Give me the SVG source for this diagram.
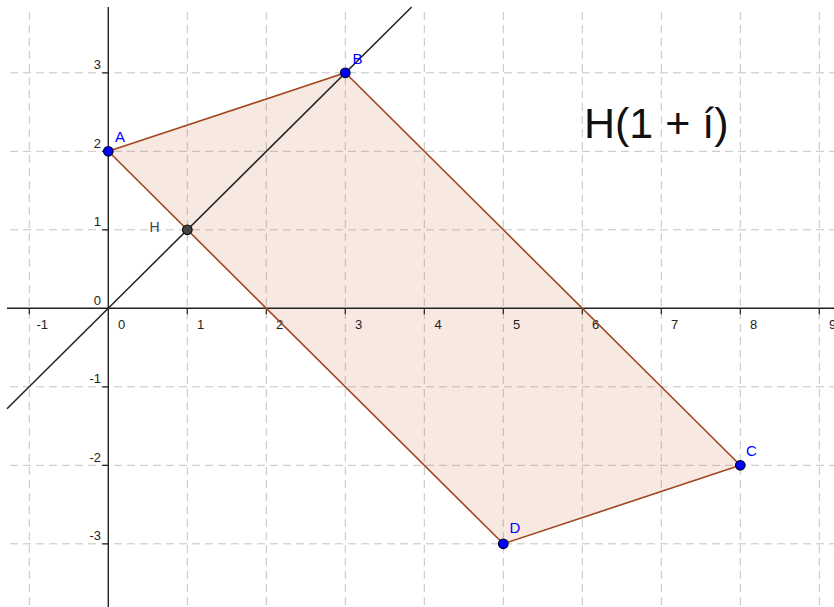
<svg xmlns="http://www.w3.org/2000/svg" width="834" height="607" viewBox="0 0 834 607">
<style>
.grid{stroke:#c4c4c4;stroke-width:1;stroke-dasharray:8 5;fill:none}
.axis{stroke:#222;stroke-width:1.4;fill:none}
.tick{stroke:#222;stroke-width:1.2}
.lbl{font-family:"Liberation Sans",Arial,sans-serif;font-size:13px;fill:#222}
.ylbl{font-family:"Liberation Sans",Arial,sans-serif;font-size:13px;fill:#222;text-anchor:end}
.seg{stroke:#a0461e;stroke-width:1.6;fill:none}
.pt{fill:#0000ff;stroke:#000033;stroke-width:1.2}
.ptl{font-family:"Liberation Sans",Arial,sans-serif;font-size:15px;fill:#0000ff}
</style>
<rect width="834" height="607" fill="#ffffff"/>
<g id="grid">
<path class="grid" d="M29.3 12V607M187.3 12V607M266.3 12V607M345.3 12V607M424.3 12V607M503.3 12V607M582.3 12V607M661.3 12V607M740.3 12V607M819.3 12V607"/>
<path class="grid" d="M10 72.8H834M10 151.3H834M10 229.8H834M10 386.8H834M10 465.3H834M10 543.8H834"/>
</g>
<g id="polygon">
<polygon points="108.3,151.3 345.3,72.8 740.3,465.3 503.3,543.8" fill="#c8623c" fill-opacity="0.15" stroke="none"/>
</g>
<g id="axes">
<path class="axis" d="M7 308.3H834M108.3 7V607"/>
<path class="tick" d="M29.3 308.3v6M187.3 308.3v6M266.3 308.3v6M345.3 308.3v6M424.3 308.3v6M503.3 308.3v6M582.3 308.3v6M661.3 308.3v6M740.3 308.3v6M819.3 308.3v6"/>
<path class="tick" d="M108.3 72.8h-6M108.3 151.3h-6M108.3 229.8h-6M108.3 386.8h-6M108.3 465.3h-6M108.3 543.8h-6"/>
<text class="lbl" x="36.5" y="329">-1</text>
<text class="lbl" x="118" y="329">0</text>
<text class="lbl" x="197" y="329">1</text>
<text class="lbl" x="276" y="329">2</text>
<text class="lbl" x="355" y="329">3</text>
<text class="lbl" x="434.5" y="329">4</text>
<text class="lbl" x="513" y="329">5</text>
<text class="lbl" x="592" y="329">6</text>
<text class="lbl" x="671" y="329">7</text>
<text class="lbl" x="750" y="329">8</text>
<text class="lbl" x="829" y="329">9</text>
<text class="ylbl" x="101" y="69">3</text>
<text class="ylbl" x="101" y="147.5">2</text>
<text class="ylbl" x="101" y="226">1</text>
<text class="ylbl" x="101" y="304.5">0</text>
<text class="ylbl" x="101" y="383">-1</text>
<text class="ylbl" x="101" y="461.5">-2</text>
<text class="ylbl" x="101" y="540">-3</text>
</g>
<g id="connectors">
<line class="seg" x1="108.3" y1="151.3" x2="345.3" y2="72.8"/>
<line class="seg" x1="345.3" y1="72.8" x2="740.3" y2="465.3"/>
<line class="seg" x1="740.3" y1="465.3" x2="503.3" y2="543.8"/>
<line class="seg" x1="503.3" y1="543.8" x2="108.3" y2="151.3"/>
<line x1="7" y1="408.8" x2="411.7" y2="7" stroke="#222" stroke-width="1.5"/>
</g>
<g id="A"><circle class="pt" cx="108.3" cy="151.3" r="4.8"/><text class="ptl" x="115" y="142">A</text></g>
<g id="B"><circle class="pt" cx="345.3" cy="72.8" r="4.8"/><text class="ptl" x="352.5" y="63.5">B</text></g>
<g id="C"><circle class="pt" cx="740.3" cy="465.3" r="4.8"/><text class="ptl" x="746" y="455.5">C</text></g>
<g id="D"><circle class="pt" cx="503.3" cy="543.8" r="4.8"/><text class="ptl" x="509.5" y="533">D</text></g>
<g id="H"><circle cx="187.3" cy="229.8" r="4.8" fill="#444" stroke="#111" stroke-width="1.2"/><text x="149.5" y="232" font-family="Liberation Sans,Arial,sans-serif" font-size="14" fill="#444">H</text></g>
<g id="title"><text x="584" y="138" font-family="Liberation Sans,Arial,sans-serif" font-size="43" fill="#111">H(1 + í)</text></g>
</svg>
